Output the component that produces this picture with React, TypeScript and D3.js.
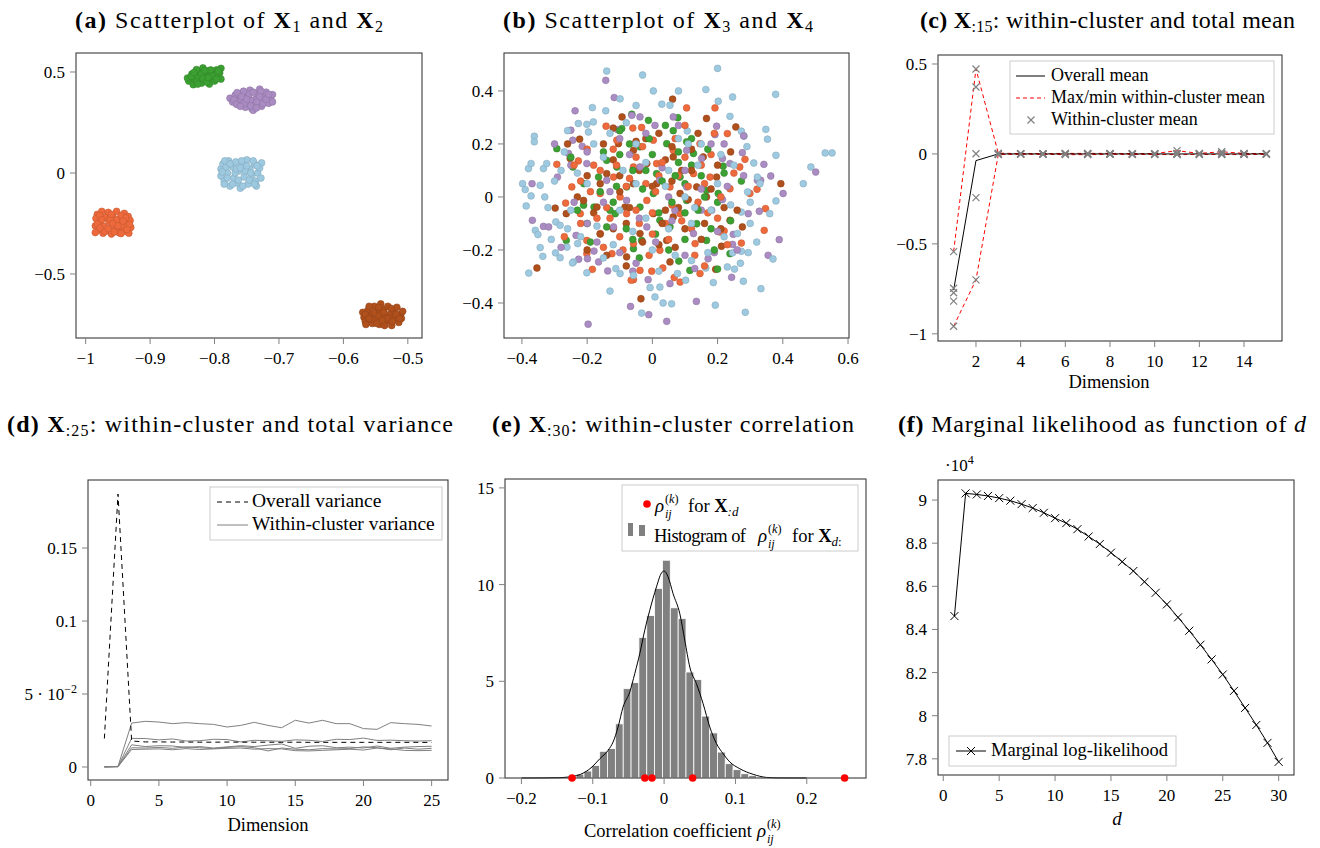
import React from 'react';
import * as d3 from 'd3';

const SERIF = "'Liberation Serif', 'DejaVu Serif', serif";
const BLUE = '#9ecae1';
const GREEN = '#3ca032';
const PURPLE = '#aa8cc3';
const ORANGE = '#ee6a3c';
const BROWN = '#b0501c';

// (a) X1 vs X2, one list per cluster
const aOrange = [[-0.982,-0.205],[-0.975,-0.19],[-0.965,-0.195],[-0.952,-0.19],[-0.94,-0.2],[-0.934,-0.215],[-0.984,-0.225],[-0.97,-0.22],[-0.958,-0.215],[-0.946,-0.225],[-0.931,-0.235],[-0.978,-0.245],[-0.964,-0.24],[-0.95,-0.245],[-0.938,-0.25],[-0.985,-0.262],[-0.972,-0.265],[-0.958,-0.26],[-0.944,-0.268],[-0.93,-0.27],[-0.98,-0.282],[-0.966,-0.285],[-0.952,-0.28],[-0.94,-0.288],[-0.933,-0.298],[-0.973,-0.298],[-0.96,-0.302],[-0.948,-0.296],[-0.985,-0.295],[-0.962,-0.228],[-0.945,-0.21],[-0.978,-0.21],[-0.96,-0.205],[-0.938,-0.222],[-0.975,-0.232],[-0.952,-0.232],[-0.982,-0.252],[-0.958,-0.25],[-0.932,-0.255],[-0.978,-0.272],[-0.95,-0.262],[-0.936,-0.28],[-0.97,-0.29],[-0.945,-0.3],[-0.956,-0.292],[-0.965,-0.275],[-0.942,-0.238]];
const aGreen = [[-0.84,0.455],[-0.842,0.47],[-0.835,0.49],[-0.83,0.46],[-0.826,0.475],[-0.824,0.5],[-0.82,0.445],[-0.815,0.46],[-0.812,0.485],[-0.81,0.505],[-0.806,0.47],[-0.802,0.492],[-0.8,0.455],[-0.797,0.51],[-0.795,0.478],[-0.792,0.495],[-0.79,0.465],[-0.79,0.518],[-0.833,0.437],[-0.818,0.52],[-0.808,0.44],[-0.828,0.512],[-0.798,0.485],[-0.836,0.478],[-0.832,0.497],[-0.828,0.452],[-0.82,0.49],[-0.818,0.468],[-0.812,0.45],[-0.806,0.51],[-0.804,0.48],[-0.797,0.465],[-0.794,0.505],[-0.826,0.44],[-0.815,0.508],[-0.81,0.472]];
const aPurple = [[-0.776,0.37],[-0.772,0.352],[-0.768,0.385],[-0.762,0.34],[-0.76,0.365],[-0.757,0.395],[-0.752,0.325],[-0.75,0.35],[-0.748,0.378],[-0.745,0.41],[-0.742,0.318],[-0.738,0.34],[-0.736,0.365],[-0.733,0.39],[-0.73,0.415],[-0.727,0.33],[-0.724,0.355],[-0.722,0.38],[-0.72,0.4],[-0.716,0.345],[-0.713,0.37],[-0.71,0.352],[-0.71,0.388],[-0.755,0.405],[-0.74,0.31],[-0.765,0.398],[-0.728,0.405],[-0.744,0.36],[-0.77,0.362],[-0.766,0.34],[-0.758,0.378],[-0.754,0.345],[-0.746,0.39],[-0.744,0.332],[-0.74,0.4],[-0.734,0.352],[-0.73,0.378],[-0.725,0.342],[-0.72,0.365],[-0.716,0.39],[-0.76,0.33],[-0.735,0.322],[-0.75,0.365]];
const aBlue = [[-0.79,0.02],[-0.79,-0.015],[-0.787,0.045],[-0.785,-0.04],[-0.78,0.0],[-0.778,0.06],[-0.776,-0.065],[-0.772,0.03],[-0.77,-0.025],[-0.767,0.055],[-0.764,-0.05],[-0.762,0.01],[-0.76,-0.075],[-0.757,0.04],[-0.754,-0.02],[-0.75,0.065],[-0.748,-0.055],[-0.745,0.02],[-0.742,-0.01],[-0.738,0.045],[-0.736,-0.04],[-0.733,0.0],[-0.73,0.025],[-0.728,-0.025],[-0.727,0.05],[-0.735,-0.065],[-0.782,0.03],[-0.768,0.0],[-0.752,0.01],[-0.788,0.005],[-0.784,0.06],[-0.78,-0.025],[-0.776,0.045],[-0.772,-0.055],[-0.766,0.02],[-0.763,-0.035],[-0.758,0.06],[-0.756,-0.065],[-0.75,0.035],[-0.746,-0.035],[-0.74,0.06],[-0.738,-0.055],[-0.734,0.035],[-0.744,0.0],[-0.785,-0.055],[-0.76,0.025]];
const aBrown = [[-0.57,-0.69],[-0.568,-0.715],[-0.566,-0.735],[-0.562,-0.68],[-0.558,-0.705],[-0.555,-0.745],[-0.552,-0.66],[-0.55,-0.725],[-0.547,-0.69],[-0.544,-0.75],[-0.542,-0.648],[-0.54,-0.71],[-0.537,-0.675],[-0.534,-0.735],[-0.531,-0.66],[-0.528,-0.7],[-0.525,-0.755],[-0.522,-0.68],[-0.52,-0.72],[-0.517,-0.665],[-0.514,-0.74],[-0.511,-0.7],[-0.508,-0.685],[-0.51,-0.72],[-0.556,-0.725],[-0.53,-0.715],[-0.545,-0.705],[-0.566,-0.7],[-0.56,-0.66],[-0.56,-0.72],[-0.553,-0.69],[-0.548,-0.745],[-0.545,-0.665],[-0.538,-0.69],[-0.536,-0.755],[-0.532,-0.72],[-0.526,-0.67],[-0.524,-0.735],[-0.518,-0.7],[-0.513,-0.72],[-0.565,-0.75],[-0.54,-0.73]];

// (b) X3 vs X4
const bBlue = [[-0.14,0.475],[-0.03,0.46],[0.2,0.485],[0.003,0.4],[0.08,0.4],[0.164,0.405],[0.246,0.377],[0.378,0.387],[0.348,0.255],[0.353,0.218],[0.379,0.157],[0.53,0.166],[0.551,0.166],[0.486,0.113],[0.463,0.05],[0.379,-0.015],[0.36,-0.063],[0.37,-0.234],[0.333,-0.346],[0.285,-0.435],[0.279,-0.318],[0.193,-0.408],[0.059,-0.403],[0.033,-0.4],[0.008,-0.377],[-0.033,-0.438],[-0.13,-0.355],[-0.379,-0.287],[-0.336,-0.224],[-0.344,-0.191],[-0.297,-0.211],[-0.283,-0.229],[-0.398,0.05],[-0.39,0.028],[-0.387,-0.034],[-0.372,0.004],[-0.38,0.107],[-0.372,0.126],[-0.362,0.229],[-0.362,0.208],[-0.334,0.107],[-0.324,0.126],[-0.344,0.044],[-0.359,-0.126],[-0.351,-0.142],[-0.296,-0.094],[-0.184,0.337],[-0.143,0.325],[-0.099,0.37],[-0.05,0.345],[0.029,0.35],[0.054,0.346],[0.107,0.249],[0.238,0.304],[0.202,0.361],[0.273,0.248],[0.281,0.23],[0.311,0.128],[0.322,0.075],[0.292,0.019],[0.273,-0.057],[0.261,-0.138],[0.246,-0.211],[0.273,-0.205],[0.23,-0.264],[0.252,-0.272],[0.294,-0.21],[0.187,-0.323],[0.164,-0.268],[0.102,-0.314],[0.077,-0.289],[0.023,-0.34],[-0.007,-0.342],[-0.058,-0.296],[-0.099,-0.289],[-0.112,-0.27],[-0.201,-0.286],[-0.242,-0.245],[-0.229,-0.176],[-0.262,-0.189],[-0.283,-0.107],[-0.245,-0.249],[-0.201,0.274],[-0.196,0.245],[-0.181,0.283],[-0.227,0.277],[-0.15,0.15],[-0.2,0.05],[-0.1,-0.05],[0.05,0.1],[0.12,-0.1],[0.2,0.05],[-0.05,0.2],[0.0,-0.2],[-0.25,-0.05],[0.15,0.2],[0.1,0.0],[-0.12,-0.18],[0.22,-0.15],[-0.18,0.2],[0.05,-0.12],[-0.05,0.05],[0.25,0.12],[-0.28,0.1],[0.18,-0.05],[-0.08,0.28],[0.3,-0.02],[-0.22,-0.15],[0.08,0.22],[-0.02,-0.08],[0.14,0.12],[-0.3,0.06],[-0.32,-0.04],[-0.27,0.17],[-0.26,-0.12],[0.33,0.05],[0.3,-0.1],[-0.15,-0.23],[0.12,-0.24],[-0.23,0.09],[-0.17,-0.11],[-0.13,0.24],[-0.09,0.1],[-0.06,-0.13],[-0.02,0.13],[0.02,-0.28],[0.04,0.04],[0.07,-0.22],[0.11,0.2],[0.13,-0.04],[0.17,-0.21],[0.21,0.16],[0.24,-0.03],[0.27,-0.25],[0.29,0.19],[-0.31,-0.16],[-0.26,0.25],[-0.33,0.0],[0.32,-0.17]];
const bPurple = [[-0.143,0.44],[-0.117,0.375],[-0.237,0.325],[-0.25,0.252],[-0.244,0.214],[-0.369,0.05],[-0.368,-0.088],[-0.334,-0.111],[-0.318,-0.113],[-0.197,-0.48],[-0.067,-0.413],[-0.011,-0.444],[0.044,-0.469],[0.135,-0.394],[0.243,-0.303],[0.355,-0.22],[0.389,-0.161],[0.328,-0.054],[0.294,-0.063],[0.322,0.063],[0.332,0.063],[0.363,0.079],[0.401,0.013],[0.501,0.094],[0.342,0.123],[0.276,0.167],[0.197,0.267],[0.192,0.235],[0.064,0.302],[0.248,-0.141],[0.246,-0.179],[0.19,-0.21],[0.171,-0.233],[0.054,-0.327],[-0.013,-0.312],[-0.06,-0.28],[-0.137,-0.279],[-0.165,-0.245],[-0.199,-0.233],[-0.226,-0.235],[-0.234,-0.145],[-0.179,-0.204],[-0.291,0.075],[-0.257,0.164],[-0.215,0.191],[-0.107,0.254],[-0.063,0.308],[-0.038,0.302],[0.008,0.27],[0.105,0.176],[0.151,0.145],[0.215,0.145],[0.238,0.126],[0.215,-0.01],[0.182,-0.05],[0.069,-0.05],[-0.079,-0.013],[-0.14,0.063],[-0.201,0.126],[-0.038,0.113],[0.023,0.063],[0.105,0.038],[-0.017,-0.113],[-0.119,-0.113],[0.126,-0.138],[-0.1,0.22],[0.05,0.0],[-0.2,-0.1],[0.15,-0.05],[0.22,0.2],[-0.25,0.12],[0.1,-0.22],[-0.05,-0.25],[0.28,0.08],[-0.15,-0.02],[-0.24,-0.02],[-0.2,0.17],[-0.17,-0.17],[-0.13,0.02],[-0.1,-0.21],[-0.07,0.16],[-0.04,-0.08],[-0.02,0.24],[0.01,-0.17],[0.03,0.11],[0.06,-0.09],[0.08,0.27],[0.1,0.1],[0.13,-0.27],[0.15,0.03],[0.18,0.2],[0.2,-0.13],[0.23,0.04],[0.26,-0.2],[0.28,0.23],[-0.28,-0.19],[-0.3,0.2]];
const bOrange = [[-0.142,0.267],[0.105,0.336],[0.192,0.336],[0.23,0.239],[0.284,0.142],[0.299,0.013],[0.321,0.029],[0.347,-0.044],[0.343,-0.126],[0.273,-0.174],[0.22,-0.128],[0.085,-0.321],[0.067,-0.304],[0.032,-0.268],[-0.002,-0.28],[-0.058,-0.312],[-0.065,-0.314],[-0.184,-0.273],[-0.201,-0.214],[-0.201,-0.164],[-0.266,-0.023],[-0.293,0.123],[-0.227,0.136],[-0.109,0.214],[-0.033,0.262],[0.023,-0.201],[0.146,-0.289],[0.131,-0.176],[0.207,-0.132],[0.177,0.075],[0.146,0.201],[0.064,0.176],[-0.119,0.075],[-0.16,0.013],[-0.079,-0.063],[-0.017,-0.013],[0.054,0.038],[0.126,0.088],[-0.058,0.113],[0.013,0.126],[0.085,-0.063],[-0.058,-0.176],[-0.16,-0.138],[-0.099,0.0],[0.003,0.214],[0.268,0.113],[0.238,0.031],[-0.221,-0.063],[-0.247,0.038],[-0.124,-0.214],[-0.038,-0.277],[-0.18,0.12],[-0.12,0.18],[-0.05,0.15],[0.02,0.08],[0.1,0.15],[0.16,0.05],[0.2,-0.08],[0.12,-0.12],[0.04,-0.1],[-0.04,-0.1],[-0.1,-0.15],[-0.17,-0.08],[-0.22,0.06],[-0.08,0.04],[0.06,-0.03],[0.14,-0.02],[-0.02,0.05],[0.08,0.08],[-0.14,-0.04],[0.0,-0.14],[0.18,0.16],[-0.2,0.18],[-0.22,-0.1],[-0.19,0.02],[-0.16,0.1],[-0.13,-0.08],[-0.11,0.12],[-0.09,-0.2],[-0.07,0.07],[-0.05,-0.05],[-0.03,0.19],[-0.01,-0.22],[0.01,0.02],[0.03,0.13],[0.05,-0.16],[0.07,0.22],[0.09,-0.09],[0.11,0.04],[0.13,-0.22],[0.15,0.12],[0.17,-0.06],[0.19,0.24],[0.21,0.0],[0.23,-0.18],[0.25,0.09],[-0.24,0.12],[-0.15,-0.19],[-0.06,0.26],[0.0,-0.06],[0.1,0.27],[0.16,-0.26],[-0.27,-0.15]];
const bBrown = [[-0.354,-0.268],[-0.035,-0.384],[0.062,0.369],[0.166,0.296],[0.256,0.264],[0.394,0.05],[0.276,-0.113],[0.212,-0.186],[0.194,-0.273],[-0.298,-0.042],[-0.264,-0.063],[-0.252,0.145],[-0.223,0.218],[-0.093,0.302],[-0.104,0.201],[-0.017,0.126],[0.013,0.05],[0.085,0.013],[0.136,0.038],[0.197,0.075],[-0.058,0.05],[-0.14,0.088],[-0.17,-0.038],[-0.084,-0.038],[0.003,-0.063],[0.064,-0.075],[0.136,-0.038],[-0.038,-0.138],[0.044,-0.164],[-0.079,-0.226],[0.054,-0.245],[0.156,0.151],[0.064,0.151],[-0.058,0.176],[-0.211,-0.013],[0.238,-0.088],[0.166,0.0],[-0.12,0.14],[-0.02,0.22],[0.06,0.06],[0.12,0.18],[0.2,0.12],[0.1,-0.12],[0.02,-0.18],[-0.08,-0.1],[-0.16,-0.14],[-0.2,0.08],[-0.1,0.02],[0.16,-0.1],[-0.04,0.1],[0.04,0.14],[0.22,-0.04],[-0.14,-0.22],[0.08,-0.04],[-0.23,0.0],[-0.18,-0.06],[-0.15,0.2],[-0.12,-0.12],[-0.1,0.08],[-0.07,-0.04],[-0.05,0.21],[-0.03,-0.17],[0.0,0.04],[0.02,0.24],[0.04,-0.05],[0.07,-0.19],[0.09,0.1],[0.11,-0.01],[0.14,0.24],[0.15,-0.16],[0.18,0.03],[0.21,-0.12],[0.24,0.17],[-0.2,-0.2],[-0.08,-0.26],[0.06,0.19],[0.12,0.1],[-0.16,0.05],[0.03,-0.1],[-0.12,0.26],[0.26,-0.05],[-0.26,0.2]];
const bGreen = [[-0.293,0.182],[-0.264,-0.164],[-0.012,0.289],[-0.063,0.312],[-0.094,0.258],[0.078,0.299],[0.105,0.208],[0.273,0.06],[0.217,0.116],[0.238,-0.214],[0.2,-0.272],[0.115,-0.277],[0.081,-0.242],[-0.033,-0.164],[-0.058,-0.195],[-0.114,-0.063],[-0.179,-0.038],[-0.211,-0.031],[-0.244,0.113],[-0.165,0.075],[-0.14,0.138],[-0.038,0.189],[0.044,0.201],[0.126,0.164],[0.166,0.025],[0.202,0.013],[0.136,-0.101],[0.054,-0.113],[0.003,0.013],[-0.079,0.038],[0.013,0.088],[0.085,0.075],[-0.038,-0.038],[-0.14,-0.113],[0.166,-0.164],[0.023,-0.088],[0.105,-0.013],[-0.109,0.113],[0.064,0.25],[-0.16,0.02],[-0.1,0.16],[0.0,0.16],[0.08,0.13],[0.15,0.08],[0.1,-0.06],[0.02,-0.06],[-0.06,-0.16],[-0.2,-0.1],[-0.12,-0.02],[0.2,-0.02],[0.05,-0.2],[-0.02,0.1],[0.12,0.22],[-0.07,0.2],[0.18,-0.12],[-0.25,0.15],[0.1,0.05],[-0.21,0.05],[-0.19,-0.17],[-0.15,0.17],[-0.13,-0.05],[-0.11,0.04],[-0.08,-0.12],[-0.06,0.1],[-0.04,-0.23],[-0.01,0.22],[0.01,-0.14],[0.03,0.06],[0.06,-0.02],[0.08,0.17],[0.1,-0.16],[0.12,0.12],[0.14,-0.05],[0.17,0.18],[0.19,-0.2],[0.22,0.09],[0.24,-0.09],[-0.23,-0.05],[-0.03,0.03],[0.07,0.08],[0.16,0.0],[-0.1,0.25],[0.04,0.27]];

// (c) within-cluster means per dimension 1..15
const dims15 = [1,2,3,4,5,6,7,8,9,10,11,12,13,14,15];
const meanOrange = [-0.958,-0.243,0.002,-0.001,0.001,0.003,-0.002,0.001,-0.003,0.002,0.018,-0.002,0.004,0.001,-0.002];
const meanGreen = [-0.818,0.472,-0.003,0.002,-0.001,-0.004,0.003,-0.002,0.002,-0.003,-0.004,0.003,-0.003,-0.002,0.001];
const meanBlue = [-0.772,0.001,0.004,0.0,0.002,0.001,0.001,0.003,0.0,0.001,0.003,0.002,0.012,0.003,0.0];
const meanPurple = [-0.747,0.372,-0.001,0.001,-0.002,0.002,-0.004,-0.001,0.001,-0.002,-0.001,-0.003,-0.002,-0.004,-0.001];
const meanBrown = [-0.543,-0.7,-0.002,-0.002,0.0,-0.002,0.002,0.0,-0.001,0.0,0.001,0.0,0.001,0.002,0.002];
const meanOverall = [-0.757,-0.037,0,0,0,0,0,0,0,0,0,0,0,0,0];

// (d) variances per dimension 1..25
const dims25 = d3.range(1, 26);
const varOverall = [0.0195,0.187,0.0178,0.0172,0.0172,0.0171,0.0171,0.017,0.017,0.0171,0.017,0.017,0.017,0.0169,0.017,0.0169,0.0169,0.0169,0.0169,0.0169,0.0169,0.0169,0.0169,0.0169,0.0168];
const varW1 = [0.0002,0.0004,0.0301,0.0313,0.0308,0.0297,0.0304,0.0297,0.0292,0.0274,0.0285,0.0306,0.0285,0.0269,0.032,0.0301,0.032,0.0297,0.0297,0.0263,0.0258,0.0304,0.0297,0.0292,0.0281];
const varW2 = [0.0002,0.0004,0.0196,0.0195,0.0186,0.0192,0.0178,0.018,0.019,0.0188,0.0172,0.0183,0.018,0.0176,0.0186,0.0183,0.0175,0.019,0.0188,0.0198,0.0182,0.0184,0.018,0.0178,0.018];
const varW3 = [0.0001,0.0003,0.0152,0.014,0.0146,0.0144,0.0134,0.014,0.013,0.0138,0.0146,0.014,0.015,0.0158,0.0128,0.0142,0.0146,0.0132,0.0136,0.013,0.0144,0.0128,0.0136,0.014,0.0142];
const varW4 = [0.0001,0.0002,0.0132,0.013,0.0134,0.0128,0.0138,0.0132,0.0126,0.0134,0.014,0.0132,0.011,0.013,0.0122,0.0118,0.0126,0.0124,0.0126,0.0138,0.0132,0.0118,0.013,0.0122,0.0128];
const varW5 = [0.0,0.0002,0.012,0.0122,0.0124,0.0118,0.0126,0.012,0.0124,0.0128,0.013,0.0122,0.0126,0.0124,0.0112,0.011,0.0114,0.0118,0.0122,0.0116,0.013,0.0124,0.0114,0.0112,0.0114];

// (e) histogram of correlations
const binLeft = [-0.1343,-0.1233,-0.1123,-0.1013,-0.0903,-0.0793,-0.0683,-0.0573,-0.0463,-0.0353,-0.0243,-0.0133,-0.0023,0.0087,0.0197,0.0307,0.0417,0.0527,0.0637,0.0747,0.0857,0.0967,0.1077,0.1187,0.1297];
const binHeight = [0.08,0.2,0.36,0.65,1.38,1.52,2.8,4.62,4.93,7.26,8.4,9.8,11.26,8.8,8.24,5.48,5.09,3.2,2.33,1.34,0.74,0.43,0.22,0.12,0.05];
const binWidth = 0.011;
const kdeX = [-0.2,-0.17,-0.146,-0.123,-0.101,-0.09,-0.0785,-0.0715,-0.0645,-0.0575,-0.0481,-0.0411,-0.0341,-0.0271,-0.0201,-0.0107,-0.0037,0,0.0056,0.0126,0.022,0.029,0.036,0.0453,0.0547,0.064,0.0734,0.0827,0.0921,0.1061,0.1248,0.1435,0.16,0.2];
const kdeY = [0,0.005,0.02,0.12,0.57,1.0,1.43,1.86,2.64,3.67,4.45,5.4,6.43,7.64,8.67,9.88,10.6,10.7,10.4,9.53,8.5,7.12,5.74,4.88,3.84,2.64,1.78,1.26,0.83,0.48,0.19,0.03,0.005,0];
const rhoFull = [-0.129,-0.027,-0.017,0.04,0.253];

// (f) marginal log-likelihood (x 10^4)
const dims30 = d3.range(1, 31);
const logLik = [8.462,9.031,9.026,9.019,9.009,8.997,8.981,8.963,8.941,8.916,8.893,8.865,8.831,8.796,8.756,8.714,8.671,8.621,8.57,8.516,8.456,8.394,8.329,8.261,8.191,8.115,8.036,7.957,7.874,7.786];

const fmt = (v: number) => (v < 0 ? '\u2212' + Math.abs(v) : String(v));
const cross = (s: number) => `M${-s},${-s}L${s},${s}M${-s},${s}L${s},${-s}`;

type Box = { l: number; r: number; t: number; b: number };

function Frame({ box, x, y, xTicks, yTicks, yRender }: any) {
  return (
    <g>
      <rect x={box.l} y={box.t} width={box.r - box.l} height={box.b - box.t} fill="none" stroke="#3a3a3a" strokeWidth={1.1} />
      {xTicks.map((t: number) => (
        <g key={'x' + t}>
          <line x1={x(t)} x2={x(t)} y1={box.b} y2={box.b + 6} stroke="#808080" />
          <text x={x(t)} y={box.b + 26} textAnchor="middle" fontSize={17}>{fmt(t)}</text>
        </g>
      ))}
      {yTicks.map((t: number) => (
        <g key={'y' + t}>
          <line x1={box.l - 6} x2={box.l} y1={y(t)} y2={y(t)} stroke="#808080" />
          {yRender ? yRender(t, box.l - 11, y(t)) : (
            <text x={box.l - 11} y={y(t)} dy="0.35em" textAnchor="end" fontSize={17}>{fmt(t)}</text>
          )}
        </g>
      ))}
    </g>
  );
}

function Title({ x, y, w, children }: any) {
  return (
    <text x={x} y={y} fontSize={24} textLength={w} lengthAdjust="spacing">{children}</text>
  );
}

function Dots({ pts, x, y, color, r = 3.4 }: any) {
  const stroke = d3.color(color)!.darker(0.5).formatHex();
  return (
    <g>
      {pts.map((p: number[], i: number) => (
        <circle key={i} cx={x(p[0])} cy={y(p[1])} r={r} fill={color} stroke={stroke} strokeWidth={0.6} />
      ))}
    </g>
  );
}

function Rho({ x, y, size }: any) {
  return (
    <g>
      <text x={x} y={y} fontSize={size * 1.05} fontStyle="italic">ρ</text>
      <text x={x + size * 0.55} y={y - size * 0.5} fontSize={size * 0.68}>(<tspan fontStyle="italic">k</tspan>)</text>
      <text x={x + size * 0.55} y={y + size * 0.32} fontSize={size * 0.68} fontStyle="italic">ij</text>
    </g>
  );
}

function PanelA() {
  const box: Box = { l: 76, r: 422, t: 53, b: 338 };
  const x = d3.scaleLinear().domain([-1.015, -0.478]).range([box.l, box.r]);
  const y = d3.scaleLinear().domain([-0.817, 0.594]).range([box.b, box.t]);
  return (
    <g>
      <Title x={75} y={28} w={308}>
        <tspan fontWeight="bold">(a)</tspan>{' Scatterplot of '}<tspan fontWeight="bold">X</tspan>
        <tspan dy={4} fontSize={16}>1</tspan><tspan dy={-4}>{' and '}</tspan><tspan fontWeight="bold">X</tspan>
        <tspan dy={4} fontSize={16}>2</tspan>
      </Title>
      <Dots pts={aOrange} x={x} y={y} color={ORANGE} />
      <Dots pts={aGreen} x={x} y={y} color={GREEN} />
      <Dots pts={aPurple} x={x} y={y} color={PURPLE} />
      <Dots pts={aBlue} x={x} y={y} color={BLUE} />
      <Dots pts={aBrown} x={x} y={y} color={BROWN} />
      <Frame box={box} x={x} y={y} xTicks={[-1, -0.9, -0.8, -0.7, -0.6, -0.5]} yTicks={[-0.5, 0, 0.5]} />
    </g>
  );
}

function PanelB() {
  const box: Box = { l: 504, r: 849, t: 53, b: 338 };
  const x = d3.scaleLinear().domain([-0.455, 0.603]).range([box.l, box.r]);
  const y = d3.scaleLinear().domain([-0.532, 0.543]).range([box.b, box.t]);
  const groups = [[bBlue, BLUE], [bPurple, PURPLE], [bOrange, ORANGE], [bBrown, BROWN], [bGreen, GREEN]] as [number[][], string][];
  const n = d3.max(groups, (g) => g[0].length)!;
  const all: { p: number[]; c: string }[] = [];
  for (let i = 0; i < n; i++) groups.forEach(([pts, c]) => { if (pts[i]) all.push({ p: pts[i], c }); });
  return (
    <g>
      <Title x={503} y={28} w={310}>
        <tspan fontWeight="bold">(b)</tspan>{' Scatterplot of '}<tspan fontWeight="bold">X</tspan>
        <tspan dy={4} fontSize={16}>3</tspan><tspan dy={-4}>{' and '}</tspan><tspan fontWeight="bold">X</tspan>
        <tspan dy={4} fontSize={16}>4</tspan>
      </Title>
      {all.map((d, i) => (
        <circle key={i} cx={x(d.p[0])} cy={y(d.p[1])} r={3.4} fill={d.c} stroke={d3.color(d.c)!.darker(0.5).formatHex()} strokeWidth={0.6} />
      ))}
      <Frame box={box} x={x} y={y} xTicks={[-0.4, -0.2, 0, 0.2, 0.4, 0.6]} yTicks={[-0.4, -0.2, 0, 0.2, 0.4]} />
    </g>
  );
}

function PanelC() {
  const box: Box = { l: 938, r: 1282, t: 55, b: 341 };
  const x = d3.scaleLinear().domain([0.3, 15.7]).range([box.l, box.r]);
  const y = d3.scaleLinear().domain([-1.04, 0.55]).range([box.b, box.t]);
  const clusters = [meanOrange, meanGreen, meanBlue, meanPurple, meanBrown];
  const maxM = dims15.map((_, i) => d3.max(clusters, (c) => c[i])!);
  const minM = dims15.map((_, i) => d3.min(clusters, (c) => c[i])!);
  const line = d3.line<number>().x((_, i) => x(dims15[i])).y((v) => y(v));
  return (
    <g>
      <Title x={920} y={28} w={375}>
        <tspan fontWeight="bold">(c) X</tspan><tspan dy={4} fontSize={16}>:15</tspan>
        <tspan dy={-4}>{': within-cluster and total mean'}</tspan>
      </Title>
      <path d={line(maxM)!} fill="none" stroke="#ff0000" strokeDasharray="4,3" />
      <path d={line(minM)!} fill="none" stroke="#ff0000" strokeDasharray="4,3" />
      <path d={line(meanOverall)!} fill="none" stroke="#000" />
      {clusters.map((c, k) => c.map((v, i) => (
        <path key={k + '-' + i} d={cross(3.5)} transform={`translate(${x(dims15[i])},${y(v)})`} stroke="#808080" strokeWidth={1.2} fill="none" />
      )))}
      <Frame box={box} x={x} y={y} xTicks={[2, 4, 6, 8, 10, 12, 14]} yTicks={[-1, -0.5, 0, 0.5]} />
      <text x={1109} y={388} textAnchor="middle" fontSize={18.5}>Dimension</text>
      <g>
        <rect x={1010} y={61} width={264} height={73} fill="#fff" stroke="#cccccc" />
        <line x1={1016} x2={1045} y1={76} y2={76} stroke="#000" />
        <text x={1051} y={81} fontSize={18}>Overall mean</text>
        <line x1={1016} x2={1045} y1={98} y2={98} stroke="#ff0000" strokeDasharray="4,3" />
        <text x={1051} y={103} fontSize={18}>Max/min within-cluster mean</text>
        <path d={cross(3.5)} transform="translate(1031,120)" stroke="#808080" strokeWidth={1.2} />
        <text x={1051} y={125} fontSize={18}>Within-cluster mean</text>
      </g>
    </g>
  );
}

function PanelD() {
  const box: Box = { l: 88, r: 448, t: 480, b: 780 };
  const x = d3.scaleLinear().domain([-0.2, 26.2]).range([box.l, box.r]);
  const y = d3.scaleLinear().domain([-0.0089, 0.1966]).range([box.b, box.t]);
  const line = d3.line<number>().x((_, i) => x(dims25[i])).y((v) => y(v));
  const within = [varW1, varW2, varW3, varW4, varW5];
  const yRender = (t: number, px: number, py: number) => t === 0.05 ? (
    <text x={px} y={py} dy="0.35em" textAnchor="end" fontSize={17}>5 · 10<tspan dy={-7} fontSize={12}>−2</tspan></text>
  ) : (
    <text x={px} y={py} dy="0.35em" textAnchor="end" fontSize={17}>{fmt(t)}</text>
  );
  return (
    <g>
      <Title x={7} y={432} w={446}>
        <tspan fontWeight="bold">(d) X</tspan><tspan dy={4} fontSize={16}>:25</tspan>
        <tspan dy={-4}>{': within-cluster and total variance'}</tspan>
      </Title>
      {within.map((w, k) => <path key={k} d={line(w)!} fill="none" stroke="#808080" />)}
      <path d={line(varOverall)!} fill="none" stroke="#000" strokeDasharray="5,4" />
      <Frame box={box} x={x} y={y} xTicks={[0, 5, 10, 15, 20, 25]} yTicks={[0, 0.05, 0.1, 0.15]} yRender={yRender} />
      <text x={268} y={831} textAnchor="middle" fontSize={18.5}>Dimension</text>
      <g>
        <rect x={210} y={487} width={232} height={53} fill="#fff" stroke="#cccccc" />
        <line x1={217} x2={248} y1={502} y2={502} stroke="#000" strokeDasharray="5,4" />
        <text x={252} y={507} fontSize={19.5}>Overall variance</text>
        <line x1={217} x2={248} y1={525} y2={525} stroke="#808080" />
        <text x={252} y={530} fontSize={19.5}>Within-cluster variance</text>
      </g>
    </g>
  );
}

function PanelE() {
  const box: Box = { l: 505, r: 866, t: 479, b: 778 };
  const x = d3.scaleLinear().domain([-0.223, 0.283]).range([box.l, box.r]);
  const y = d3.scaleLinear().domain([0, 15.46]).range([box.b, box.t]);
  const kde = d3.line<number>().x((v) => x(v)).y((_, i) => y(kdeY[i])).curve(d3.curveMonotoneX);
  return (
    <g>
      <Title x={492} y={432} w={362}>
        <tspan fontWeight="bold">(e) X</tspan><tspan dy={4} fontSize={16}>:30</tspan>
        <tspan dy={-4}>{': within-cluster correlation'}</tspan>
      </Title>
      {binLeft.map((b, i) => (
        <rect key={i} x={x(b)} y={y(binHeight[i])} width={x(b + binWidth) - x(b)} height={y(0) - y(binHeight[i])} fill="#808080" stroke="#fff" strokeWidth={0.8} />
      ))}
      <path d={kde(kdeX)!} fill="none" stroke="#000" strokeWidth={1} />
      <Frame box={box} x={x} y={y} xTicks={[-0.2, -0.1, 0, 0.1, 0.2]} yTicks={[0, 5, 10, 15]} />
      {rhoFull.map((v, i) => <circle key={i} cx={x(v)} cy={y(0)} r={3.8} fill="#ff0000" />)}
      <text x={584} y={837} fontSize={18.5} textLength={168} lengthAdjust="spacing">Correlation coefficient</text>
      <Rho x={757} y={837} size={18} />
      <g>
        <rect x={622} y={485} width={236} height={66} fill="#fff" stroke="#cccccc" />
        <circle cx={647} cy={504} r={3.8} fill="#ff0000" />
        <Rho x={655} y={512} size={18} />
        <text x={688} y={512} fontSize={18.5}>for <tspan fontWeight="bold">X</tspan><tspan dy={4} fontSize={13} fontStyle="italic">:d</tspan></text>
        <rect x={628} y={523} width={5} height={13} fill="#808080" />
        <rect x={639} y={525} width={6} height={11} fill="#808080" />
        <text x={654} y={542} fontSize={18.5} textLength={92} lengthAdjust="spacing">Histogram of</text>
        <Rho x={758} y={542} size={18} />
        <text x={792} y={542} fontSize={18.5}>for <tspan fontWeight="bold">X</tspan><tspan dy={4} fontSize={13} fontStyle="italic">d</tspan><tspan fontSize={13}>:</tspan></text>
      </g>
    </g>
  );
}

function PanelF() {
  const box: Box = { l: 938, r: 1294, t: 480, b: 775 };
  const x = d3.scaleLinear().domain([-0.47, 31.37]).range([box.l, box.r]);
  const y = d3.scaleLinear().domain([7.725, 9.093]).range([box.b, box.t]);
  const line = d3.line<number>().x((_, i) => x(dims30[i])).y((v) => y(v));
  return (
    <g>
      <Title x={898} y={432} w={408}>
        <tspan fontWeight="bold">(f)</tspan>{' Marginal likelihood as function of '}<tspan fontStyle="italic">d</tspan>
      </Title>
      <path d={line(logLik)!} fill="none" stroke="#000" />
      {logLik.map((v, i) => (
        <path key={i} d={cross(4)} transform={`translate(${x(dims30[i])},${y(v)})`} stroke="#000" fill="none" />
      ))}
      <Frame box={box} x={x} y={y} xTicks={[0, 5, 10, 15, 20, 25, 30]} yTicks={[7.8, 8, 8.2, 8.4, 8.6, 8.8, 9]} />
      <text x={945} y={471} fontSize={17}>·10<tspan dy={-7} fontSize={12}>4</tspan></text>
      <text x={1117} y={825} textAnchor="middle" fontSize={19} fontStyle="italic">d</text>
      <g>
        <rect x={949} y={736} width={227} height={30} fill="#fff" stroke="#cccccc" />
        <line x1={956} x2={986} y1={751} y2={751} stroke="#000" />
        <path d={cross(4)} transform="translate(971,751)" stroke="#000" />
        <text x={991} y={756} fontSize={18.5}>Marginal log-likelihood</text>
      </g>
    </g>
  );
}

export default function App() {
  return (
    <svg width={1320} height={848} fontFamily={SERIF} style={{ position: 'absolute', left: 0, top: 0, background: '#fff' }}>
      <PanelA />
      <PanelB />
      <PanelC />
      <PanelD />
      <PanelE />
      <PanelF />
    </svg>
  );
}
